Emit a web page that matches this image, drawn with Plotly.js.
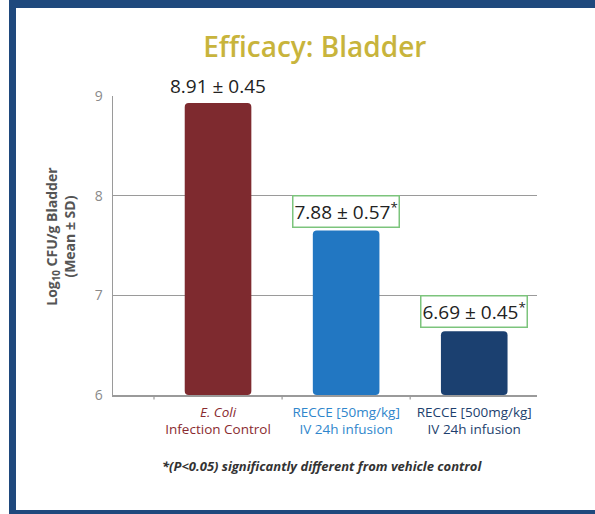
<!DOCTYPE html>
<html>
<head>
<meta charset="utf-8">
<script src="https://cdn.plot.ly/plotly-3.0.1.min.js"></script>
<style>
  html, body { margin: 0; padding: 0; background: #ffffff; }
  #wrap { position: relative; width: 595px; height: 514px; overflow: hidden; }
  #chart { position: absolute; left: 0; top: 0; width: 595px; height: 514px; }
  #frame { position: absolute; left: 9px; top: 0; width: 586px; height: 514px; box-sizing: border-box;
           border-left: 7px solid #1f497d; border-top: 8px solid #1f497d; border-bottom: 4px solid #1f497d;
           pointer-events: none; }
</style>
</head>
<body>
<div id="wrap">
  <div id="chart"></div>
  <div id="frame"></div>
</div>
<script>
// ---- data ----
const categories = ["E. Coli", "RECCE [50mg/kg]", "RECCE [500mg/kg]"];
const categorySubLabels = ["Infection Control", "IV 24h infusion", "IV 24h infusion"];
const barHeights = [8.93, 7.65, 6.64];
const meanLabels = ["8.91 ± 0.45", "7.88 ± 0.57*", "6.69 ± 0.45*"];
const significant = [false, true, true];
const yTicks = [6, 7, 8, 9];
const barColors = ["#7e2a2f", "#2277c2", "#1b4070"];
const labelColors = ["#8a2b30", "#2f86cc", "#1d3f6e"];

// ---- build ----
const xs = [0, 1, 2];
const tickText = categories.map((c, i) => {
  const first = i === 0 ? "<i>" + c + "</i>" : c;
  return "<span style=\"color:" + labelColors[i] + "\">" + first + "<br>" + categorySubLabels[i] + "</span>";
});

const trace = {
  type: "bar",
  x: xs,
  y: barHeights.map(v => v - 6),
  base: 6,
  width: 0.52,
  marker: { color: barColors, cornerradius: 4, line: { width: 0 } },
  hoverinfo: "skip"
};

const annotations = xs.map((x, i) => ({
  x: x, y: barHeights[i], xref: "x", yref: "y",
  text: meanLabels[i].replace("*", "<sup>*</sup>"), showarrow: false,
  yanchor: "bottom", xanchor: "center",
  yshift: significant[i] ? 3 : 3,
  font: { family: "Open Sans, Lato, sans-serif", size: 19, color: "#222222" },
  bordercolor: significant[i] ? "#7cc47c" : "rgba(0,0,0,0)",
  borderwidth: significant[i] ? 1.5 : 0,
  borderpad: 1,
  bgcolor: significant[i] ? "#ffffff" : "rgba(0,0,0,0)"
}));

annotations.push({
  xref: "paper", yref: "paper", x: -0.123, y: 0.532,
  text: "<b>Log<sub>10</sub> CFU/g Bladder<br>(Mean ± SD)</b>",
  textangle: -90, showarrow: false, xanchor: "center", yanchor: "middle",
  font: { family: "Open Sans, Lato, sans-serif", size: 14, color: "#555555" }
});
annotations.push({
  xref: "paper", yref: "paper", x: 0.493, y: -0.237,
  text: "<b><i>*(P<0.05) significantly different from vehicle control</i></b>",
  showarrow: false, xanchor: "center", yanchor: "middle",
  font: { family: "Open Sans, Lato, sans-serif", size: 13, color: "#333333" }
});

const layout = {
  width: 595, height: 514,
  margin: { l: 113, r: 58, t: 96, b: 119 },
  paper_bgcolor: "#ffffff", plot_bgcolor: "#ffffff",
  showlegend: false,
  title: {
    text: "Efficacy: Bladder",
    x: 0.529, xanchor: "center", y: 0.9086, yanchor: "middle",
    font: { family: "Open Sans, Lato, sans-serif", size: 28, weight: 600, color: "#c8b43c" }
  },
  xaxis: {
    range: [-0.82, 2.49],
    tickmode: "array", tickvals: xs, ticktext: tickText,
    showgrid: false, zeroline: false,
    showline: true, linecolor: "#9a9a9a", linewidth: 1.5,
    ticks: "", ticklabelstandoff: 4,
    tickfont: { family: "Open Sans, Lato, sans-serif", size: 13.5, color: "#555" }
  },
  yaxis: {
    range: [6, 9],
    tickmode: "array", tickvals: yTicks,
    showgrid: true, gridcolor: "#9a9a9a", gridwidth: 1.5,
    zeroline: false,
    showline: true, linecolor: "#9a9a9a", linewidth: 1.5,
    ticks: "", ticklabelstandoff: 6,
    tickfont: { family: "Open Sans, Lato, sans-serif", size: 14, color: "#8a8a8a" }
  },
  annotations: annotations,
  shapes: [-0.5, 0.5, 1.5].map(b => ({
    type: "line", xref: "x", yref: "paper", x0: b, x1: b, y0: 0, y1: -0.015,
    line: { color: "#9a9a9a", width: 1.2 }
  }))
};

Plotly.newPlot("chart", [trace], layout, { staticPlot: true, displayModeBar: false });
</script>
</body>
</html>
